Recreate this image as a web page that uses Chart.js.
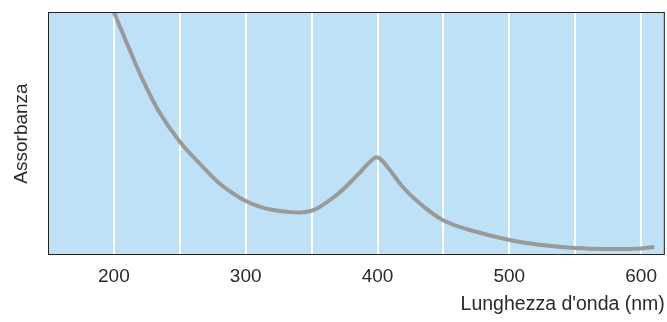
<!DOCTYPE html>
<html>
<head>
<meta charset="utf-8">
<script src="https://cdn.jsdelivr.net/npm/chart.js@4/dist/chart.umd.min.js"></script>
<style>
  html, body { margin: 0; padding: 0; background: #fff; }
  #wrap { width: 667px; height: 322px; }
</style>
</head>
<body>
<div id="wrap"><canvas id="spectrum"></canvas></div>
<script>
// wavelengths (nm) and absorbance (y scale 0..1, no ticks)
var wavelengths = [200, 212, 222, 235, 250, 265, 280, 290, 300, 310, 320, 333, 342, 350, 356, 371, 386, 394, 400, 409, 419, 432, 449.5, 470, 500, 525, 550, 575, 600, 610];
var absorbance  = [1.0, 0.844, 0.72, 0.583, 0.466, 0.377, 0.295, 0.255, 0.222, 0.2, 0.186, 0.177, 0.175, 0.182, 0.197, 0.256, 0.336, 0.382, 0.402, 0.352, 0.281, 0.213, 0.144, 0.103, 0.062, 0.041, 0.029, 0.025, 0.027, 0.033];
var xLabels = [200, 300, 400, 500, 600];

var FONT = "'Liberation Sans Narrow', 'Liberation Sans', Arial, sans-serif";

// ============================================
// PLOT BACKGROUND + FRAME
// ============================================
var plotFrame = {
  id: "plotFrame",
  beforeDraw: function (chart) {
    var a = chart.chartArea, ctx = chart.ctx;
    ctx.save();
    ctx.fillStyle = "#bde2f7";
    ctx.fillRect(a.left, a.top, a.right - a.left, a.bottom - a.top);
    ctx.restore();
  },
  afterDraw: function (chart) {
    var a = chart.chartArea, ctx = chart.ctx;
    ctx.save();
    ctx.strokeStyle = "#222";
    ctx.lineWidth = 1;
    ctx.strokeRect(a.left + 0.5, a.top + 0.5, a.right - a.left - 1, a.bottom - a.top - 1);
    ctx.restore();
  }
};

var points = wavelengths.map(function (w, i) {
  return { x: w, y: absorbance[i] };
});

new Chart(document.getElementById("spectrum"), {
  type: "line",
  data: {
    datasets: [
      {
        label: "Assorbanza",
        data: points,
        borderColor: "#9a9a9a",
        borderWidth: 4,
        pointRadius: 0,
        tension: 0.4,
        fill: false
      }
    ]
  },
  options: {
    responsive: true,
    maintainAspectRatio: false,
    animation: false,
    layout: { padding: { top: 12, right: 1, left: 0, bottom: 0 } },
    plugins: {
      legend: { display: false },
      tooltip: { enabled: false }
    },
    scales: {
      x: {
        type: "linear",
        min: 150,
        max: 618,
        afterFit: function (scale) { scale.height = 67; },
        grid: {
          color: "#ffffff",
          lineWidth: 2,
          drawTicks: false
        },
        border: { display: false },
        ticks: {
          stepSize: 50,
          includeBounds: false,
          padding: 10,
          color: "#2a2a2a",
          font: { family: FONT, size: 19 },
          maxRotation: 0,
          autoSkip: false,
          callback: function (v) {
            return xLabels.indexOf(v) > -1 ? String(v) : "";
          }
        },
        title: {
          display: true,
          text: "Lunghezza d'onda (nm)",
          align: "end",
          color: "#2a2a2a",
          font: { family: FONT, size: 19.5 },
          padding: { top: 0, bottom: 6 }
        }
      },
      y: {
        min: 0,
        max: 1,
        afterFit: function (scale) { scale.width = 48; },
        grid: { display: false },
        border: { display: false },
        ticks: { display: false },
        title: {
          display: true,
          text: "Assorbanza",
          color: "#2a2a2a",
          font: { family: FONT, size: 19 },
          padding: { top: 10, bottom: 0 }
        }
      }
    }
  },
  plugins: [plotFrame]
});
</script>
</body>
</html>
